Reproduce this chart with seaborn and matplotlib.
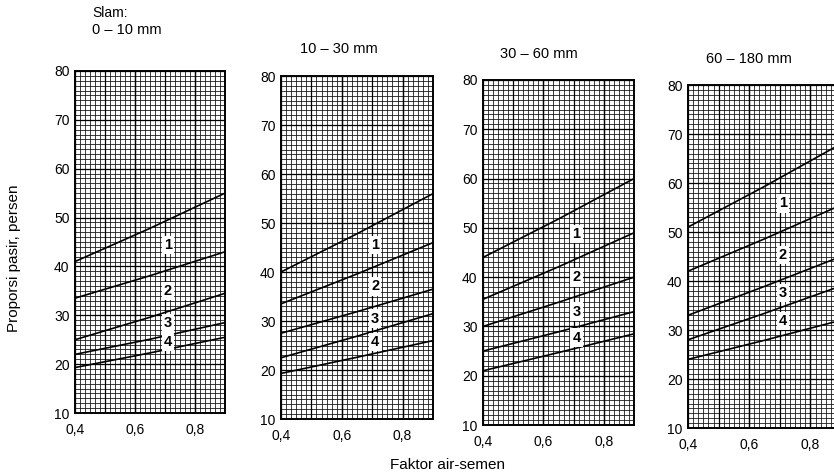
import numpy as np
import pandas as pd
import matplotlib
matplotlib.use("Agg")
import matplotlib.pyplot as plt
import seaborn as sns
from matplotlib.ticker import MultipleLocator, FixedLocator, FuncFormatter

# faktor air-semen (x) at which the curves were read
wc_ratio = [0.4, 0.65, 0.9]

slump_titles = ["0 – 10 mm", "10 – 30 mm", "30 – 60 mm", "60 – 180 mm"]
zone_labels = ["1", "2", "3", "4"]

# proporsi pasir (%) of the five boundary curves, top to bottom
sand_0_10 = [[41.0, 47.8, 55.0],
             [33.5, 38.1, 43.0],
             [25.0, 29.6, 34.5],
             [22.0, 25.1, 28.5],
             [19.3, 22.3, 25.5]]
sand_10_30 = [[40.0, 47.8, 56.0],
              [33.5, 39.6, 46.0],
              [27.5, 31.9, 36.5],
              [22.5, 26.9, 31.5],
              [19.3, 22.6, 26.0]]
sand_30_60 = [[44.0, 51.8, 60.0],
              [35.5, 42.1, 49.0],
              [30.0, 34.9, 40.0],
              [25.0, 28.9, 33.0],
              [21.0, 24.7, 28.5]]
sand_60_180 = [[51.0, 59.3, 68.0],
               [42.0, 48.6, 55.5],
               [33.0, 38.9, 45.0],
               [28.0, 33.4, 39.0],
               [24.0, 27.9, 32.0]]
all_panels = [sand_0_10, sand_10_30, sand_30_60, sand_60_180]

rows = []
for title, curves in zip(slump_titles, all_panels):
    for k, ys in enumerate(curves):
        for x, y in zip(wc_ratio, ys):
            rows.append((title, f"c{k}", x, y))
df = pd.DataFrame(rows, columns=["slam", "curve", "fas", "pasir"])

sns.set_theme(style="white")
plt.rcParams["font.family"] = ["Liberation Sans", "DejaVu Sans"]

W, H = 834, 473
fig = plt.figure(figsize=(W / 100, H / 100), dpi=100)

# panel boxes in pixels: left, top, right, bottom (scan is slightly tilted)
boxes = [(75, 71, 225, 413), (281, 76, 433, 419), (483, 80, 634, 425), (688, 85, 841, 428)]
title_pos = [(92, 30), (300, 49), (500, 54), (706, 59)]

fmt = FuncFormatter(lambda v, p: f"{v:.1f}".replace(".", ","))

for i, (title, box) in enumerate(zip(slump_titles, boxes)):
    l, t, r, b = box
    ax = fig.add_axes([l / W, 1 - b / H, (r - l) / W, (b - t) / H])
    sub = df[df["slam"] == title]
    sns.lineplot(data=sub, x="fas", y="pasir", units="curve", estimator=None,
                 color="black", lw=1.2, ax=ax, zorder=5)
    ax.set_xlim(0.4, 0.9)
    ax.set_ylim(10, 80)
    ax.xaxis.set_major_locator(FixedLocator([0.4, 0.6, 0.8]))
    ax.xaxis.set_major_formatter(fmt)
    ax.xaxis.set_minor_locator(MultipleLocator(0.5 / 30))
    ax.yaxis.set_major_locator(MultipleLocator(10))
    ax.yaxis.set_minor_locator(MultipleLocator(1))
    ax.grid(which="minor", color="#1a1a1a", lw=0.6)
    ax.grid(which="major", color="black", lw=0.9)
    # heavier lines every 0.1 along x
    for xv in np.arange(0.5, 0.9, 0.1):
        ax.axvline(xv, color="black", lw=0.9, zorder=1)
    ax.set_axisbelow(True)
    ax.tick_params(which="both", length=0, labelsize=10, colors="black")
    ax.tick_params(axis="y", pad=4)
    ax.tick_params(axis="x", pad=7)
    ax.set_xlabel("")
    ax.set_ylabel("")
    for s in ax.spines.values():
        s.set_color("black")
        s.set_linewidth(1.4)

    # zone numbers between the boundary curves
    curves = all_panels[i]
    for z, lab in enumerate(zone_labels):
        yu = np.interp(0.71, wc_ratio, curves[z])
        yl = np.interp(0.71, wc_ratio, curves[z + 1])
        ax.text(0.71, (yu + yl) / 2, lab, ha="center", va="center", fontsize=10.5,
                fontweight="bold", color="black", zorder=6,
                bbox=dict(boxstyle="square,pad=0.15", fc="white", ec="none"))

    tx, ty = title_pos[i]
    fig.text(tx / W, 1 - ty / H, title, ha="left", va="center", fontsize=10.5, color="black")

fig.text(92 / W, 1 - 13 / H, "Slam:", ha="left", va="center", fontsize=10, color="black")
fig.text(14 / W, 1 - 258 / H, "Proporsi pasir, persen", rotation=90, ha="center",
         va="center", fontsize=11, color="black")
fig.text(448 / W, 1 - 465 / H, "Faktor air-semen", ha="center", va="center",
         fontsize=11, color="black")

fig.savefig("out.png", dpi=100, facecolor="white")
